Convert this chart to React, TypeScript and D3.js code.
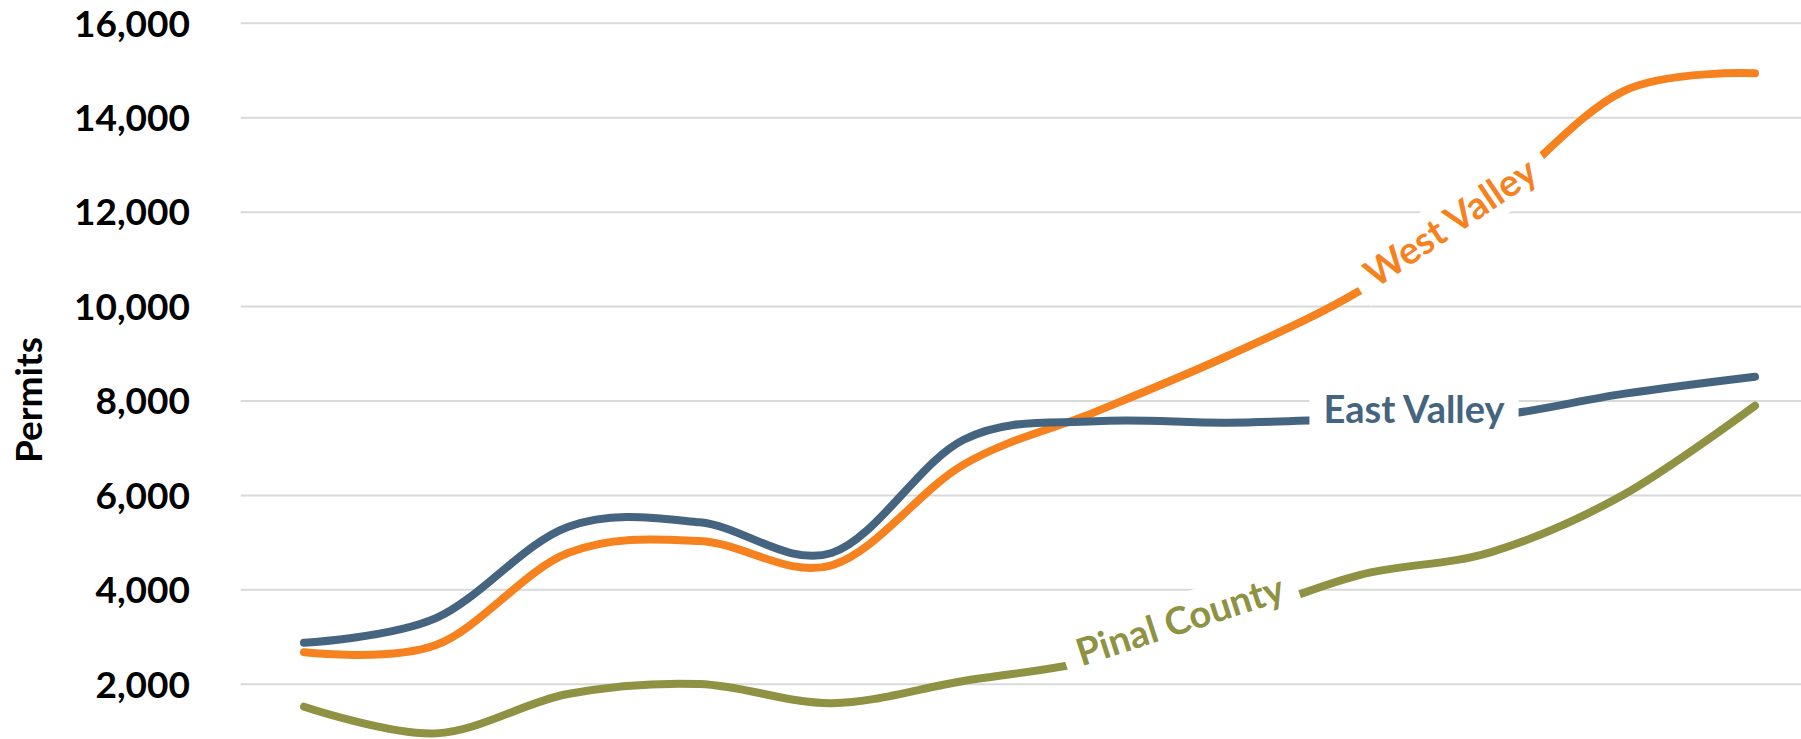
import React, { useLayoutEffect, useRef, useState } from "react";
import * as d3 from "d3";

// categories (x axis is cropped off in the picture)
const years = ["2010", "2011", "2012", "2013", "2014", "2015", "2016", "2017", "2018", "2019", "2020", "2021"];

const eastValley = [2880, 3400, 5333, 5430, 4780, 7180, 7570, 7540, 7620, 7680, 8150, 8514];
const westValley = [2677, 2830, 4780, 5035, 4520, 6653, 7770, 8953, 10330, 12250, 14560, 14940];
const pinalCounty = [1525, 960, 1794, 2006, 1600, 2070, 2510, 3360, 4314, 4800, 6009, 7900];

// 0 sits below the visible area, so only these are drawn
const yTicks = [2000, 4000, 6000, 8000, 10000, 12000, 14000, 16000];

// series labels sit on the line: position as (category index, value), angle in degrees
const seriesLabels = [
  { name: "Pinal County", color: "#8f9143", at: 6.64, value: 3360, angle: -18 },
  { name: "West Valley", color: "#f5821f", at: 8.69, value: 11790, angle: -34 },
  { name: "East Valley", color: "#44647f", at: 8.415, value: 7830, angle: 0 },
];

const width = 1801;
const height = 739;
const font = "Lato, 'Open Sans', sans-serif";

const Label = ({ x, y, angle, text, color }) => {
  const ref = useRef(null);
  const [w, setW] = useState(180);
  useLayoutEffect(() => {
    if (ref.current) setW(ref.current.getComputedTextLength());
  }, [text]);
  const pad = 14;
  return (
    <g transform={`translate(${x},${y}) rotate(${angle})`}>
      <rect x={-w / 2 - pad} y={-25} width={w + pad * 2} height={50} fill="#fff" />
      <text
        ref={ref}
        textAnchor="middle"
        dy="0.36em"
        fill={color}
        fontFamily={font}
        fontWeight={700}
        fontSize={38}
      >
        {text}
      </text>
    </g>
  );
};

const App = () => {
  const x = d3.scalePoint().domain(years).range([304, 1755]);
  const y = d3.scaleLinear().domain([0, 16000]).range([778.7, 23.3]);

  const line = d3
    .line<number>()
    .x((d, i) => x(years[i]))
    .y(d => y(d))
    .curve(d3.curveCardinal.tension(0));

  const series = [
    { name: "West Valley", values: westValley, color: "#f5821f" },
    { name: "East Valley", values: eastValley, color: "#44647f" },
    { name: "Pinal County", values: pinalCounty, color: "#8f9143" },
  ];

  const x0 = x(years[0]);
  const step = x.step();

  return (
    <svg
      width={width}
      height={height}
      style={{ position: "absolute", left: 0, top: 0, display: "block", background: "#fff" }}
    >
      <g>
        {yTicks.map(t => (
          <g key={t}>
            <line x1={240.7} x2={width} y1={y(t)} y2={y(t)} stroke="#d9d9d9" strokeWidth={2} />
            <text
              x={190}
              y={y(t)}
              dy="0.36em"
              textAnchor="end"
              fontFamily={font}
              fontWeight={700}
              fontSize={37}
              fill="#000"
            >
              {d3.format(",")(t)}
            </text>
          </g>
        ))}
      </g>
      <text
        transform={`translate(29,400) rotate(-90)`}
        textAnchor="middle"
        dy="0.36em"
        fontFamily={font}
        fontWeight={700}
        fontSize={37}
        fill="#000"
      >
        Permits
      </text>
      <g fill="none" strokeWidth={8} strokeLinecap="round">
        {series.map(s => (
          <path key={s.name} d={line(s.values)} stroke={s.color} />
        ))}
      </g>
      {seriesLabels.map(l => (
        <Label
          key={l.name}
          x={x0 + l.at * step}
          y={y(l.value)}
          angle={l.angle}
          text={l.name}
          color={l.color}
        />
      ))}
    </svg>
  );
};

export default App;
